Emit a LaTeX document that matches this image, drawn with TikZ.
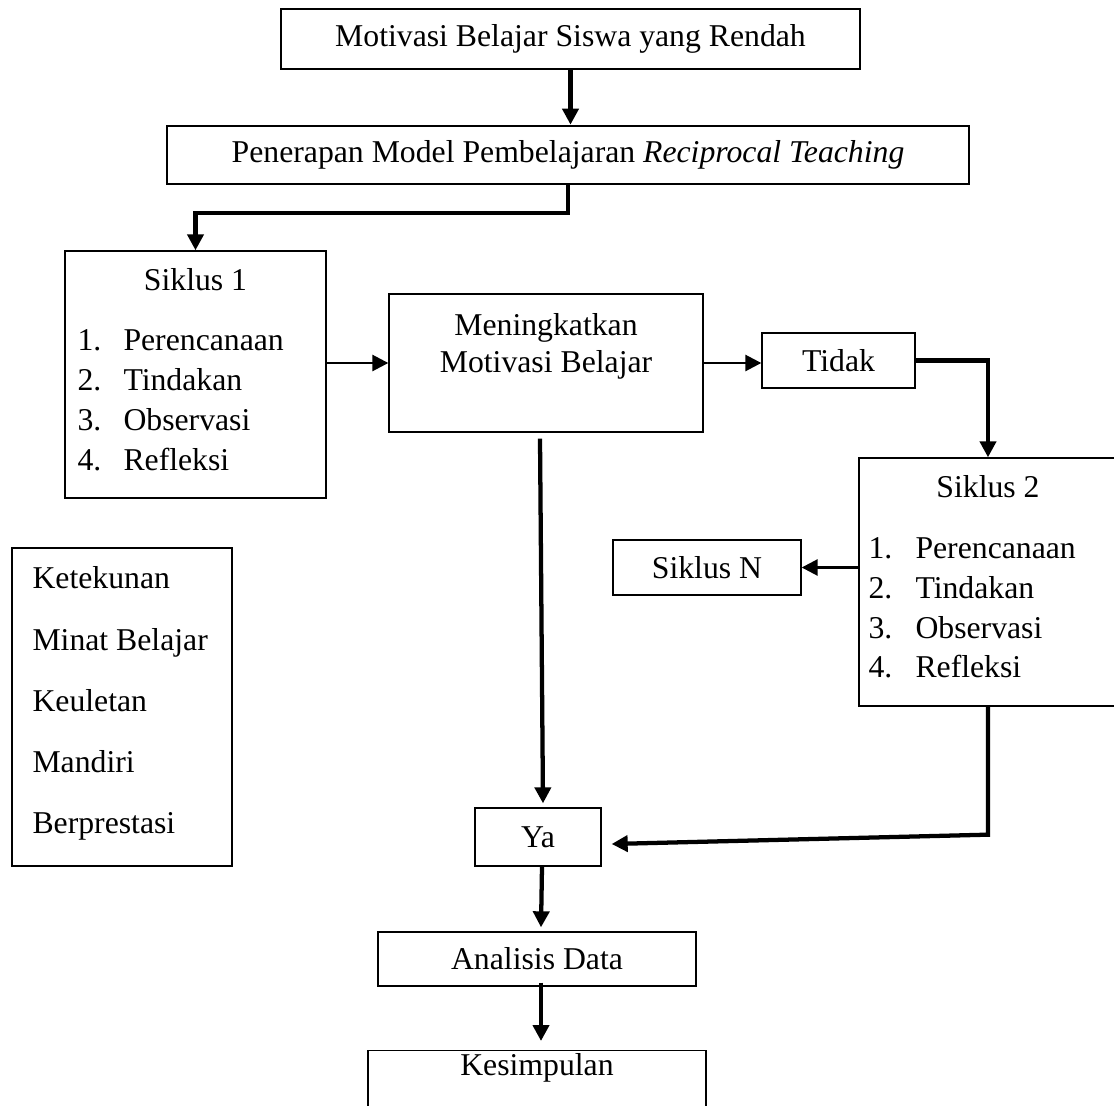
\documentclass[tikz,border=0pt]{standalone}
\usepackage{fontspec}
\setmainfont{Liberation Serif}
\usetikzlibrary{arrows.meta,calc}

\tikzset{every picture/.style={line width=0.75pt}}
\newcommand{\hurufbesar}{\fontsize{23.8pt}{28pt}\selectfont}
\tikzset{
  kotak/.style={draw, line width=1pt, inner sep=0pt, font=\hurufbesar},
  kotaktebal/.style={kotak, line width=2pt},
  teks/.style={inner sep=0pt, font=\hurufbesar},
  panah/.style={-{Triangle[length=12pt,width=12pt]}, line width=2pt},
  panahtebal/.style={panah, line width=3.2pt},
}

\begin{document}
\begin{tikzpicture}[x=0.75pt,y=0.75pt,yscale=-1,xscale=1]
\useasboundingbox (0,0) rectangle (1114,1106);

%Shape: Rectangle [masalah]
\node[kotaktebal, minimum width=434.25pt, minimum height=45pt] (masalah) at (570.5,39) {Motivasi Belajar Siswa yang Rendah};
%Shape: Rectangle [penerapan]
\node[kotaktebal, minimum width=601.5pt, minimum height=43.5pt] (penerapan) at (568,155) {Penerapan Model Pembelajaran \textit{Reciprocal Teaching}};
%Shape: Rectangle [siklus 1]
\node[kotak, minimum width=195.75pt, minimum height=185.25pt] (siklus1) at (195.5,374.5) {};
%Shape: Rectangle [meningkatkan]
\node[kotak, minimum width=235.5pt, minimum height=103.5pt] (meningkat) at (546,363) {};
%Shape: Rectangle [tidak]
\node[kotak, minimum width=114.75pt, minimum height=41.25pt] (tidak) at (838.5,360.5) {Tidak};
%Shape: Rectangle [siklus 2]
\node[kotak, minimum width=193.5pt, minimum height=186pt] (siklus2) at (988,582) {};
%Shape: Rectangle [siklus N]
\node[kotak, minimum width=141pt, minimum height=41.25pt] (siklusN) at (707,567.5) {Siklus N};
%Shape: Rectangle [indikator]
\node[kotak, minimum width=165pt, minimum height=238.5pt] (indikator) at (122,707) {};
%Shape: Rectangle [ya]
\node[kotak, minimum width=94.5pt, minimum height=43.5pt] (ya) at (538,837) {Ya};
%Shape: Rectangle [analisis]
\node[kotak, minimum width=238.5pt, minimum height=40.5pt] (analisis) at (537,959) {Analisis Data};
%Shape: Rectangle [kesimpulan]
\node[kotak, anchor=north, minimum width=253.5pt, inner ysep=2.5pt, text height=16.2pt, text depth=40pt] (kesimpulan) at (537,1050) {Kesimpulan};

% Text Node
\node[teks, anchor=base] (judulsatu) at (195.5,290) {Siklus 1};
% Text Node
\node[teks, anchor=base west] (nosatua) at (77,350) {1.};
\node[teks, anchor=base west] (isisatua) at (123,350) {Perencanaan};
\node[teks, anchor=base west] (nosatub) at (77,390) {2.};
\node[teks, anchor=base west] (isisatub) at (123,390) {Tindakan};
\node[teks, anchor=base west] (nosatuc) at (77,430) {3.};
\node[teks, anchor=base west] (isisatuc) at (123,430) {Observasi};
\node[teks, anchor=base west] (nosatud) at (77,470) {4.};
\node[teks, anchor=base west] (isisatud) at (123,470) {Refleksi};

% Text Node
\node[teks, anchor=base] (meningkatatas) at (546,335) {Meningkatkan};
\node[teks, anchor=base] (meningkatbawah) at (546,372) {Motivasi Belajar};

% Text Node
\node[teks, anchor=base] (juduldua) at (988,497) {Siklus 2};
% Text Node
\node[teks, anchor=base west] (noduaa) at (868,558) {1.};
\node[teks, anchor=base west] (isiduaa) at (915,558) {Perencanaan};
\node[teks, anchor=base west] (noduab) at (868,598) {2.};
\node[teks, anchor=base west] (isiduab) at (915,598) {Tindakan};
\node[teks, anchor=base west] (noduac) at (868,638) {3.};
\node[teks, anchor=base west] (isiduac) at (915,638) {Observasi};
\node[teks, anchor=base west] (noduad) at (868,677) {4.};
\node[teks, anchor=base west] (isiduad) at (915,677) {Refleksi};

% Text Node
\node[teks, anchor=base west] (tekuna) at (32,588) {Ketekunan};
\node[teks, anchor=base west] (minat) at (32,650) {Minat Belajar};
\node[teks, anchor=base west] (ulet) at (32,711) {Keuletan};
\node[teks, anchor=base west] (mandiri) at (32,772) {Mandiri};
\node[teks, anchor=base west] (prestasi) at (32,833) {Berprestasi};

%Straight Lines
\draw[panahtebal] (masalah.south) -- (masalah.south |- penerapan.north);
\draw[panahtebal] (penerapan.south) -- ++(0,28) -| (siklus1.north);
\draw[panah] (siklus1.east |- meningkat.west) -- (meningkat.west);
\draw[panah] (meningkat.east) -- (meningkat.east -| tidak.west);
\draw[panahtebal] (tidak.east) -| (siklus2.north);
\draw[panah] (siklus2.west |- siklusN.east) -- (siklusN.east);
\draw[panahtebal] ($(meningkat.south)+(-6,6)$) -- ($(ya.north)+(5,-4)$);
\coordinate (belok) at ($(siklus2.south)+(0,128)$);
\draw[panahtebal] (siklus2.south) -- (belok) -- ($(ya.east)+(10,7)$);
\draw[panahtebal] ($(ya.south)+(4,0)$) -- ($(analisis.north)+(4,-4)$);
\draw[panahtebal] ($(analisis.south)+(4,-4)$) -- ($(kesimpulan.north)+(4,-9)$);

\end{tikzpicture}
\end{document}
